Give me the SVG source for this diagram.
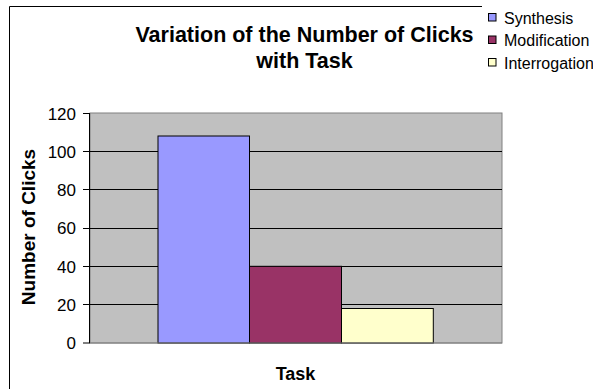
<svg xmlns="http://www.w3.org/2000/svg" width="593" height="389" viewBox="0 0 593 389">
<style>
text{font-family:"Liberation Sans",Arial,sans-serif;fill:#000}
.title{font-size:21.5px;font-weight:bold;text-anchor:middle}
.axt{font-size:18px;font-weight:bold;text-anchor:middle}
.tick{font-size:17px;text-anchor:end}
.leg{font-size:16px}
.grid{stroke:#000;stroke-width:1}
.bar{stroke:#000;stroke-width:1}
</style>
<rect x="0" y="0" width="593" height="389" fill="#fff"/>
<path d="M9.5,389 V6.5 H482" fill="none" stroke="#000" stroke-width="1"/>
<g id="title">
<text class="title" x="304.5" y="41.5">Variation of the Number of Clicks</text>
<text class="title" x="304.5" y="68">with Task</text>
</g>
<g id="plot">
<rect x="90" y="113" width="412" height="230" fill="#C0C0C0" stroke="#808080" stroke-width="1"/>
<g class="grid">
<line x1="90" y1="304.5" x2="502" y2="304.5"/>
<line x1="90" y1="266.5" x2="502" y2="266.5"/>
<line x1="90" y1="228.5" x2="502" y2="228.5"/>
<line x1="90" y1="189.5" x2="502" y2="189.5"/>
<line x1="90" y1="151.5" x2="502" y2="151.5"/>
</g>
</g>
<g id="bars">
<rect id="synthesis" class="bar" x="158" y="136" width="91.5" height="207" fill="#9999FF"/>
<rect id="modification" class="bar" x="249.5" y="266.3" width="92" height="76.7" fill="#993366"/>
<rect id="interrogation" class="bar" x="341.5" y="308.5" width="91.8" height="34.5" fill="#FFFFCC"/>
</g>
<g id="axis">
<line x1="89.5" y1="113" x2="89.5" y2="343" stroke="#000"/>
<line x1="90" y1="343" x2="502" y2="343" stroke="#808080"/>
<g stroke="#000">
<line x1="83" y1="113.5" x2="90" y2="113.5"/>
<line x1="83" y1="151.5" x2="90" y2="151.5"/>
<line x1="83" y1="189.5" x2="90" y2="189.5"/>
<line x1="83" y1="228.5" x2="90" y2="228.5"/>
<line x1="83" y1="266.5" x2="90" y2="266.5"/>
<line x1="83" y1="304.5" x2="90" y2="304.5"/>
<line x1="83" y1="343" x2="90" y2="343"/>
</g>
<text class="tick" x="76" y="119.5">120</text>
<text class="tick" x="76" y="157.5">100</text>
<text class="tick" x="76" y="195.5">80</text>
<text class="tick" x="76" y="234">60</text>
<text class="tick" x="76" y="272.5">40</text>
<text class="tick" x="76" y="310.5">20</text>
<text class="tick" x="76" y="349">0</text>
<text class="axt" style="font-size:19px" transform="translate(35,227) rotate(-90)">Number of Clicks</text>
<text class="axt" x="295.5" y="380">Task</text>
</g>
<g id="legend">
<rect x="482" y="0" width="111" height="82" fill="#fff"/>
<rect x="488.5" y="13.5" width="7.5" height="7.5" fill="#9999FF" stroke="#000"/>
<text class="leg" x="504" y="23.5">Synthesis</text>
<rect x="488.5" y="36" width="7.5" height="7.5" fill="#993366" stroke="#000"/>
<text class="leg" x="504" y="46">Modification</text>
<rect x="488.5" y="58.5" width="7.5" height="7.5" fill="#FFFFCC" stroke="#000"/>
<text class="leg" x="504" y="68.5">Interrogation</text>
</g>
</svg>
